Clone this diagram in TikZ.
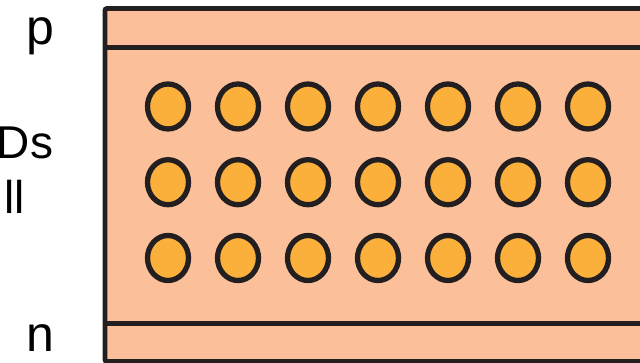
\documentclass[tikz,border=0pt]{standalone}
\usepackage{fontspec}
\setmainfont{Liberation Sans}
\usetikzlibrary{shapes.geometric}
\definecolor{peach}{RGB}{251,192,154}
\definecolor{dot}{RGB}{251,176,59}
\definecolor{ink}{RGB}{35,31,32}
\begin{document}
\begin{tikzpicture}[x=1pt,y=-1pt,
  band/.style={line width=4.8pt,draw=ink},
  qd/.style={ellipse,draw=ink,fill=dot,line width=5.3pt,minimum width=41pt,minimum height=45pt,inner sep=0pt},
  lbl/.style={font=\fontsize{50}{50}\selectfont,inner sep=0pt},
  side/.style={font=\fontsize{46}{46}\selectfont,inner sep=0pt}]
\useasboundingbox (0,0) rectangle (640,363);
\clip (0,0) rectangle (640,363);
\draw[band,fill=peach,rounded corners=2pt] (105,8.5) rectangle (720,361.5);
\coordinate (t0) at (105,47.5);
\coordinate (t1) at (720,47.5);
\coordinate (b0) at (105,323.5);
\coordinate (b1) at (720,323.5);
\draw[band] (t0) -- (t1);
\draw[band] (b0) -- (b1);
\foreach \r/\y in {1/106.5,2/182.2,3/258}{
  \foreach \c in {0,...,6}{
    \node[qd] (q\r\c) at ({168+70*\c},\y) {};
  }
}
\node[lbl,anchor=base] (lp) at (40,45) {p};
\node[side,anchor=base west] (lds) at (-3.3,159) {Ds};
\node[side,anchor=base west] (lll) at (4,214) {ll};
\node[lbl,anchor=base] (ln) at (40,352) {n};
\end{tikzpicture}
\end{document}
